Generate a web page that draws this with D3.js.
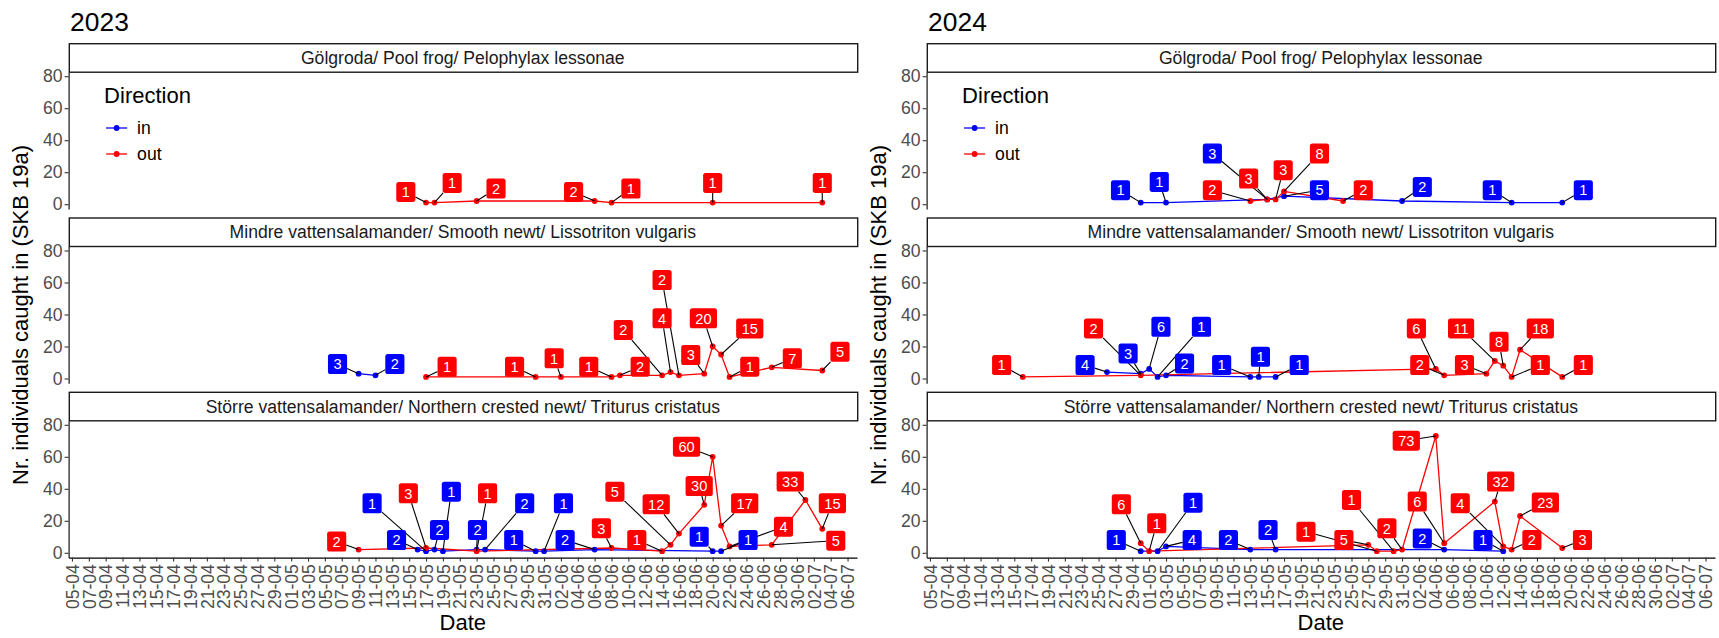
<!DOCTYPE html>
<html>
<head>
<meta charset="utf-8">
<script src="https://cdn.jsdelivr.net/npm/d3@7"></script>
<style>
  body { margin: 0; background: #ffffff; }
  svg { display: block; }
</style>
</head>
<body>
<svg id="chart" width="1719" height="638"></svg>
<script>
// ---- Labels -------------------------------------------------------------
const years = [2023, 2024];
const speciesNames = [
  "Gölgroda/ Pool frog/ Pelophylax lessonae",
  "Mindre vattensalamander/ Smooth newt/ Lissotriton vulgaris",
  "Större vattensalamander/ Northern crested newt/ Triturus cristatus"
];
const directionNames = ["in", "out"];
const countTicks = [0, 20, 40, 60, 80];
const dateTickLabels = [
  "05-04","07-04","09-04","11-04","13-04","15-04","17-04","19-04","21-04","23-04","25-04","27-04","29-04",
  "01-05","03-05","05-05","07-05","09-05","11-05","13-05","15-05","17-05","19-05","21-05","23-05","25-05","27-05","29-05","31-05",
  "02-06","04-06","06-06","08-06","10-06","12-06","14-06","16-06","18-06","20-06","22-06","24-06","26-06","28-06","30-06",
  "02-07","04-07","06-07"
];

// ---- Catches (date dd-mm, count) and label nudges [days, individuals] ---
// 2023
const pool2023InDates = [];
const pool2023InCounts = [];
const pool2023InNudge = [];
const pool2023OutDates = ["17-05","18-05","23-05","06-06","08-06","20-06","03-07"];
const pool2023OutCounts = [1, 1, 2, 2, 1, 1, 1];
const pool2023OutNudge = [[-2.4,6.7],[2.1,12.3],[2.3,7.8],[-2.5,5.7],[2.3,8.8],[0,12.3],[0,12.3]];

const smooth2023InDates = ["09-05","11-05"];
const smooth2023InCounts = [3, 2];
const smooth2023InNudge = [[-2.5,6],[2.3,7]];
const smooth2023OutDates = ["17-05","30-05","02-06","08-06","09-06","14-06","15-06","16-06","19-06","20-06","21-06","22-06","27-06","03-07"];
const smooth2023OutCounts = [1, 1, 1, 1, 2, 2, 4, 2, 3, 20, 15, 1, 7, 5];
const smooth2023OutNudge = [[2.5,6.3],[-2.5,6.3],[-0.8,11.6],[-2.7,6.4],[2.4,5.4],[-4.6,28.3],[-1,33.6],[-2,59.5],[-1.6,11.65],[-1.1,17.6],[3.4,16.3],[2.4,6.4],[2.45,5.6],[2.1,11.7]];

const crested2023InDates = ["16-05","17-05","18-05","19-05","23-05","24-05","30-05","31-05","06-06","20-06","21-06"];
const crested2023InCounts = [2, 1, 2, 1, 2, 2, 1, 1, 2, 1, 1];
const crested2023InNudge = [[-2.5,6],[-6.4,29.9],[0.6,12.3],[1,37.2],[0.1,12.3],[4.7,28.9],[-2.6,7],[2.3,29.9],[-3.5,6],[-1.6,9.1],[3.2,7]];
const crested2023OutDates = ["09-05","17-05","23-05","08-06","14-06","15-06","16-06","19-06","20-06","21-06","22-06","27-06","01-07","03-07"];
const crested2023OutCounts = [2, 3, 1, 3, 1, 5, 12, 30, 60, 17, 4, 5, 33, 15];
const crested2023OutNudge = [[-2.6,5],[-2.1,34.2],[1.3,36.2],[-1.2,12.3],[-3,7],[-6.6,33.2],[-2.7,18.3],[-0.6,11.75],[-3.1,6.3],[2.8,13.9],[6.4,12.3],[7.6,2.6],[-1.8,11.5],[1.2,15.9]];

// 2024
const pool2024InDates = ["30-04","03-05","15-05","17-05","31-05","13-06","19-06"];
const pool2024InCounts = [1, 1, 3, 5, 2, 1, 1];
const pool2024InNudge = [[-2.4,7.75],[-0.8,12.9],[-6.5,28.7],[4.2,3.75],[2.4,8.8],[-2.3,7.75],[2.5,7.75]];
const pool2024OutDates = ["13-05","15-05","16-05","17-05","24-05"];
const pool2024OutCounts = [2, 3, 3, 8, 2];
const pool2024OutNudge = [[-4.5,6.75],[-2.2,13],[0.9,18.25],[4.2,23.7],[2.4,6.75]];

const smooth2024InDates = ["26-04","30-04","01-05","02-05","03-05","13-05","14-05","16-05"];
const smooth2024InCounts = [4, 3, 6, 1, 2, 1, 1, 1];
const smooth2024InNudge = [[-2.6,4.4],[-1.5,12.7],[1.4,26.3],[5.2,31.3],[2.2,7.4],[-3.4,7.4],[0.2,12.6],[2.8,7.4]];
const smooth2024OutDates = ["16-04","30-04","04-06","05-06","10-06","11-06","12-06","13-06","14-06","19-06"];
const smooth2024OutCounts = [1, 2, 6, 2, 3, 11, 8, 1, 18, 1];
const smooth2024OutNudge = [[-2.5,7.4],[-5.6,29.3],[-2.3,25.3],[-2.9,6.4],[-2.6,5.4],[-4,20.3],[-0.5,14.9],[3.4,7.4],[2.4,13.3],[2.5,7.4]];

const crested2024InDates = ["30-04","02-05","03-05","13-05","16-05","05-06","12-06"];
const crested2024InCounts = [1, 1, 4, 2, 2, 2, 1];
const crested2024InNudge = [[-2.9,7],[4.2,30.3],[3.1,4],[-2.6,6],[-0.9,12.3],[-2.6,7],[-2.4,7]];
const crested2024OutDates = ["30-04","01-05","27-05","28-05","30-05","31-05","04-06","05-06","11-06","12-06","13-06","14-06","19-06"];
const crested2024OutCounts = [6, 1, 5, 1, 1, 2, 73, 6, 32, 4, 2, 23, 3];
const crested2024OutNudge = [[-2.3,24.3],[0.9,17.4],[-2.9,3],[-8.4,12.2],[-5,32],[-1.8,13.3],[-3.5,-2.9],[-3.2,26],[0.7,12.5],[-5.1,26.9],[2.4,6],[3,8.4],[2.4,5]];

// ---- Table assembled from the arrays ------------------------------------
const plots = [
  { year: years[0], facets: [
    { name: speciesNames[0], series: [[pool2023InDates, pool2023InCounts, pool2023InNudge], [pool2023OutDates, pool2023OutCounts, pool2023OutNudge]] },
    { name: speciesNames[1], series: [[smooth2023InDates, smooth2023InCounts, smooth2023InNudge], [smooth2023OutDates, smooth2023OutCounts, smooth2023OutNudge]] },
    { name: speciesNames[2], series: [[crested2023InDates, crested2023InCounts, crested2023InNudge], [crested2023OutDates, crested2023OutCounts, crested2023OutNudge]] }
  ]},
  { year: years[1], facets: [
    { name: speciesNames[0], series: [[pool2024InDates, pool2024InCounts, pool2024InNudge], [pool2024OutDates, pool2024OutCounts, pool2024OutNudge]] },
    { name: speciesNames[1], series: [[smooth2024InDates, smooth2024InCounts, smooth2024InNudge], [smooth2024OutDates, smooth2024OutCounts, smooth2024OutNudge]] },
    { name: speciesNames[2], series: [[crested2024InDates, crested2024InCounts, crested2024InNudge], [crested2024OutDates, crested2024OutCounts, crested2024OutNudge]] }
  ]}
];

// ---- Appearance ---------------------------------------------------------
const FONT = "'Liberation Sans', Arial, Helvetica, sans-serif";
const dirColor = d3.scaleOrdinal().domain(directionNames).range(["#0000FF", "#FF0000"]);
const DAY = 864e5;
const L = {
  plotLeft: [68.6, 926.6], plotWidth: 788.4,
  panelTop0: 72.2, panelPitch: 174.3, panelH: 136.8, stripH: 28.5,
  yDomain: [-3, 82.5]
};

const svg = d3.select("#chart").style("font-family", FONT);

plots.forEach((plot, pi) => {
  const left = L.plotLeft[pi];
  const right = left + L.plotWidth;
  const t0 = Date.UTC(plot.year, 3, 5);
  const x = d3.scaleUtc()
    .domain([new Date(t0 - 0.4 * DAY), new Date(t0 + 93.12 * DAY)])
    .range([left, right]);
  const parse = s => {
    const [dd, mm] = s.split("-").map(Number);
    return new Date(Date.UTC(plot.year, mm - 1, dd));
  };
  const root = svg.append("g");

  // year title
  root.append("text")
    .attr("x", left + 1.5).attr("y", 31)
    .attr("font-size", 26.4).attr("fill", "#000")
    .text(plot.year);

  // y axis title
  root.append("text")
    .attr("transform", `translate(${left - 40.6},315) rotate(-90)`)
    .attr("text-anchor", "middle")
    .attr("font-size", 22).attr("fill", "#000")
    .text("Nr. individuals caught in (SKB 19a)");

  plot.facets.forEach((facet, k) => {
    const top = L.panelTop0 + k * L.panelPitch;
    const bottom = top + L.panelH;
    const y = d3.scaleLinear().domain(L.yDomain).range([bottom, top]);
    const g = root.append("g");

    // strip
    g.append("rect")
      .attr("x", left + 0.7).attr("y", top - L.stripH)
      .attr("width", L.plotWidth).attr("height", L.stripH)
      .attr("fill", "#fff").attr("stroke", "#1a1a1a").attr("stroke-width", 1.4);
    g.append("text")
      .attr("x", (left + right) / 2).attr("y", top - L.stripH / 2)
      .attr("dy", "0.35em").attr("text-anchor", "middle")
      .attr("font-size", 17.6).attr("fill", "#1a1a1a")
      .text(facet.name);

    // y axis
    const ya = g.append("g")
      .attr("transform", `translate(${left},0)`)
      .call(d3.axisLeft(y).tickValues(countTicks).tickSize(4).tickSizeOuter(0).tickPadding(2));
    ya.select(".domain").attr("stroke", "#000").attr("stroke-width", 1.1);
    ya.selectAll(".tick line").attr("stroke", "#333").attr("stroke-width", 1.1);
    ya.selectAll(".tick text").attr("font-size", 17.6).attr("fill", "#4d4d4d").attr("font-family", FONT);

    // x axis on the bottom facet only
    if (k === plot.facets.length - 1) {
      const xa = g.append("g")
        .attr("transform", `translate(0,${bottom})`)
        .call(d3.axisBottom(x)
          .tickValues(dateTickLabels.map(parse))
          .tickFormat((d, i) => dateTickLabels[i])
          .tickSize(4).tickSizeOuter(0));
      xa.select(".domain").attr("stroke", "#000").attr("stroke-width", 1.1);
      xa.selectAll(".tick line").attr("stroke", "#333").attr("stroke-width", 1.1);
      xa.selectAll(".tick text")
        .attr("font-size", 17.6).attr("fill", "#4d4d4d").attr("font-family", FONT)
        .attr("transform", "rotate(-90)")
        .attr("text-anchor", "end")
        .attr("x", -6.5).attr("y", 0).attr("dy", "0.35em");
      g.append("text")
        .attr("x", (left + right) / 2).attr("y", 630)
        .attr("text-anchor", "middle").attr("font-size", 22).attr("fill", "#000")
        .text("Date");
    }

    // records for each direction
    const series = facet.series.map((s, si) => ({
      dir: directionNames[si],
      rows: s[0].map((d, i) => ({ date: parse(d), count: s[1][i], nudge: s[2][i] }))
    }));

    const line = d3.line().x(d => x(d.date)).y(d => y(d.count));
    series.forEach(s => {
      if (!s.rows.length) return;
      g.append("path").datum(s.rows)
        .attr("d", line).attr("fill", "none")
        .attr("stroke", dirColor(s.dir)).attr("stroke-width", 1.3);
    });
    series.forEach(s => {
      g.selectAll(null).data(s.rows).enter().append("circle")
        .attr("cx", d => x(d.date)).attr("cy", d => y(d.count))
        .attr("r", 2.9).attr("fill", dirColor(s.dir));
    });

    // value labels with leader segments
    const labels = [];
    series.forEach(s => s.rows.forEach(d => {
      labels.push({
        dir: s.dir, text: String(d.count),
        px: x(d.date), py: y(d.count),
        cx: x(new Date(d.date.getTime() + d.nudge[0] * DAY)),
        cy: y(d.count + d.nudge[1])
      });
    }));
    const segLayer = g.append("g");
    const boxLayer = g.append("g");
    labels.forEach(lb => {
      const lg = boxLayer.append("g");
      const rect = lg.append("rect").attr("fill", dirColor(lb.dir)).attr("rx", 2.6);
      const txt = lg.append("text")
        .attr("x", lb.cx).attr("y", lb.cy).attr("dy", "0.36em")
        .attr("text-anchor", "middle").attr("font-size", 14.6).attr("fill", "#fff")
        .text(lb.text);
      const w = txt.node().getComputedTextLength() + 11;
      const h = 20;
      rect.attr("x", lb.cx - w / 2).attr("y", lb.cy - h / 2).attr("width", w).attr("height", h);
      const dx = lb.px - lb.cx, dy = lb.py - lb.cy;
      const t = Math.min(Math.abs(dx) > 1e-6 ? (w / 2) / Math.abs(dx) : Infinity,
                         Math.abs(dy) > 1e-6 ? (h / 2) / Math.abs(dy) : Infinity);
      if (t < 1) {
        const sx = lb.cx + dx * t, sy = lb.cy + dy * t;
        if (Math.hypot(lb.px - sx, lb.py - sy) > 3) {
          segLayer.append("line")
            .attr("x1", sx).attr("y1", sy).attr("x2", lb.px).attr("y2", lb.py)
            .attr("stroke", "#000").attr("stroke-width", 1.1);
        }
      }
    });

    // legend inside the top facet
    if (k === 0) {
      const lg = g.append("g").attr("transform", `translate(${left + 35.5},0)`);
      lg.append("text").attr("x", 0).attr("y", 103)
        .attr("font-size", 22).attr("fill", "#000").text("Direction");
      directionNames.forEach((dn, i) => {
        const cy = 128 + i * 26;
        lg.append("line").attr("x1", 2).attr("x2", 23).attr("y1", cy).attr("y2", cy)
          .attr("stroke", dirColor(dn)).attr("stroke-width", 1.3);
        lg.append("circle").attr("cx", 12.5).attr("cy", cy).attr("r", 2.9).attr("fill", dirColor(dn));
        lg.append("text").attr("x", 33).attr("y", cy).attr("dy", "0.35em")
          .attr("font-size", 17.6).attr("fill", "#000").text(dn);
      });
    }
  });
});
</script>
</body>
</html>
